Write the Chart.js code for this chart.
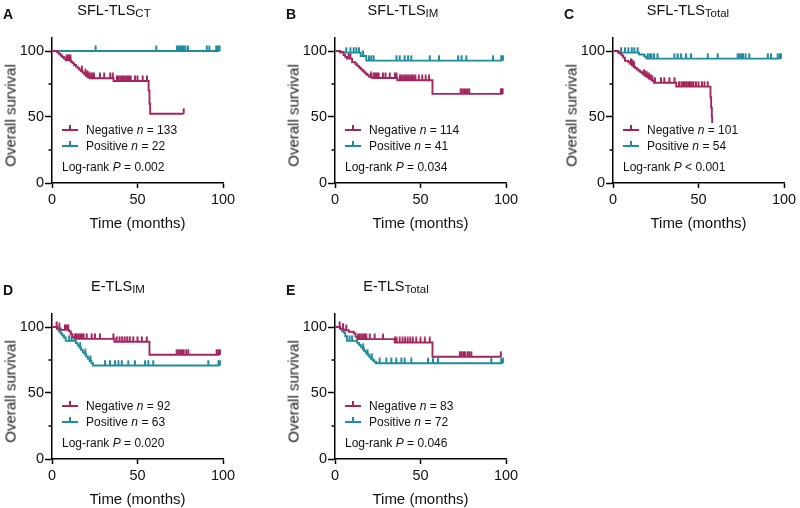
<!DOCTYPE html>
<html>
<head>
<meta charset="utf-8">
<script src="https://cdn.jsdelivr.net/npm/chart.js@4.4.1/dist/chart.umd.min.js"></script>
<style>
    body { margin: 0; background: #fff; width: 800px; height: 508px; position: relative; overflow: hidden;
           font-family: "Liberation Sans", Arial, sans-serif; color: #111; }
    .panel { position: absolute; width: 250px; height: 240px; }
    .panel canvas { position: absolute; left: 0; top: 0; }
    .txt { position: absolute; white-space: nowrap; line-height: 1; }
    .letter { font-weight: bold; font-size: 14px; }
    .title { font-size: 14.5px; transform: translateX(-50%); }
    .title sub { font-size: 11.5px; position: relative; top: 1.5px; vertical-align: baseline; line-height: 0; }
    .ytitle { font-size: 15px; width: 200px; text-align: center; transform: rotate(-90deg); color: #1a1a1a; }
    .xtitle { font-size: 15px; width: 200px; text-align: center; }
    .leg { font-size: 12px; }
    .sym { position: absolute; height: 1.6px; width: 16px; }
    .sym i { position: absolute; left: 7px; top: -4.5px; width: 1.6px; height: 5px; }
</style>
</head>
<body>
<script>
// colours of the two groups
const groupNames = ['Negative', 'Positive'];
const groupColors = ['#A2265C', '#1E8C9E'];

const xTicks = [0, 50, 100];
const yTicks = [0, 25, 50, 75, 100];
const yMinor = [25, 75];

// ---- A: SFL-TLS CT
const A_neg_t = [0, 3, 4, 5, 6, 7, 8, 11, 12, 13, 14, 15, 16, 17, 18, 19, 20, 21, 22, 36, 56.5, 57, 57.4, 77];
const A_neg_s = [100, 99, 97.8, 96.6, 95.4, 94.2, 93, 91.8, 90.6, 89.4, 88.2, 87, 85.8, 84.6, 83.4, 82.2, 81, 80, 79.4, 77.3, 70, 60, 52.5, 52.5];
const A_neg_c = [8.5, 9.3, 10, 10.8, 17.5, 19.5, 20.5, 21.5, 22.5, 23.5, 24.5, 28, 30.5, 34, 35.5, 38, 39, 40, 41, 42, 43, 44, 45, 46, 48.5, 50, 53, 55.5, 77];
const A_pos_t = [0, 98];
const A_pos_s = [100, 100];
const A_pos_c = [25.5, 61, 73, 74, 75, 76, 77, 78, 79.5, 90.5, 92, 96, 97, 98];

// ---- B: SFL-TLS IM
const B_neg_t = [0, 3, 5, 6, 7, 10, 12, 13, 14, 15, 16, 17, 18, 19, 20, 21, 22, 36.5, 57, 98];
const B_neg_s = [100, 99.2, 97, 95.5, 94.2, 91.5, 90, 88.7, 87.5, 86.3, 85, 83.8, 82.6, 81.5, 80.5, 80, 79.5, 77.8, 67.5, 67.5];
const B_neg_c = [8, 9, 21, 22.5, 23.5, 24.5, 25.5, 28, 29.5, 32, 35, 36, 38, 39, 40, 41, 42, 43, 44, 45, 46, 47, 49, 51, 53, 55, 73.5, 74.5, 75.5, 76.5, 77.5, 78.5, 97, 97.5, 98];
const B_pos_t = [0, 3, 15, 18.3, 98];
const B_pos_s = [100, 98.8, 96.2, 92.7, 92.7];
const B_pos_c = [6.6, 9, 10.9, 12.5, 14, 16.4, 19.9, 21.2, 22.6, 35.9, 37.8, 40.7, 42.7, 44.6, 55.4, 60.8, 72, 74, 76.8, 92.4, 97.2, 98.2];

// ---- C: SFL-TLS Total
const C_neg_t = [0, 3, 4, 5, 6, 7, 9, 10, 11, 12, 13, 14, 15, 16, 17, 18, 19, 20, 21, 22, 23, 24, 37, 57, 57.4, 57.8, 58];
const C_neg_s = [100, 99, 98, 96.7, 95, 92.5, 91.5, 90.3, 89.2, 88, 87, 86, 85, 84, 83, 82, 81, 80, 79.2, 78.4, 77.5, 76, 73, 65, 57, 50, 45.5];
const C_neg_c = [10.5, 11.5, 12.3, 18, 19, 20, 21, 22, 23, 24.5, 28, 30, 33, 36, 38.6, 40, 41, 42, 43, 44, 45, 46, 47, 48.5, 50, 52, 53.5, 55.4];
const C_pos_t = [0, 3, 15.2, 18.3, 19.5, 98];
const C_pos_s = [100, 98.8, 97.4, 95.8, 94.2, 94.2];
const C_pos_c = [4.7, 7, 9, 11, 12.5, 14.4, 20.3, 21.5, 22.5, 24, 26, 35.9, 37.8, 39.8, 42.7, 45.6, 55.4, 61.2, 72.9, 74, 75, 76, 77.5, 79.7, 90.5, 92.4, 96.3, 97.5, 98.2];

// ---- D: E-TLS IM
const D_neg_t = [0, 3, 5, 10, 11, 12, 13, 36.5, 57, 98];
const D_neg_s = [100, 98.9, 97.8, 96.7, 94.5, 92.3, 91, 88.8, 79, 79];
const D_neg_c = [2.7, 4.3, 7.6, 8.6, 9.5, 13.5, 14.5, 15.5, 16.5, 17.5, 18.5, 20.3, 23.2, 25.1, 28, 35.9, 37.8, 39.5, 41, 42.5, 44, 45.5, 47.5, 50, 52.5, 55.4, 72.9, 74, 75, 76, 77, 78.5, 79.7, 96.3, 97.3, 98.2];
const D_pos_t = [0, 3, 4, 5, 6, 7, 8, 14, 15, 16, 17, 18, 19, 20, 21, 22, 23, 24, 98];
const D_pos_s = [100, 98.4, 96.8, 95.2, 93.6, 92, 89.5, 87.8, 86.1, 84.4, 82.7, 81, 79.3, 77.6, 75.9, 74.2, 72.5, 70.8, 70.8];
const D_pos_c = [10, 11.5, 16.5, 19.5, 22.5, 31, 33.9, 36.8, 38.8, 40.8, 44.6, 48.5, 54.4, 56.3, 59.2, 91.4, 97.3, 98.2];

// ---- E: E-TLS Total
const E_neg_t = [0, 3, 5, 8, 11, 12, 13, 35, 57, 97];
const E_neg_s = [100, 98.8, 97.6, 96.4, 95.2, 92.8, 90.8, 88.3, 77.5, 77.5];
const E_neg_c = [2.7, 4.7, 6.6, 13.5, 14.5, 15.5, 16.5, 17.5, 18.3, 20.3, 23.2, 28.1, 35, 36, 37.8, 39.5, 41, 42.5, 44, 45.5, 47.5, 50, 52.5, 55.4, 73, 74, 75, 76, 77.5, 78.5, 79.7, 97];
const E_pos_t = [0, 3, 4, 5, 6, 7, 13, 14, 15, 16, 17, 18, 19, 20, 21, 22, 23, 24, 98];
const E_pos_s = [100, 98.6, 97.2, 95.8, 93, 89.5, 88, 86.5, 85, 83.5, 82, 80.5, 79, 77.5, 76, 74.8, 73.6, 72.5, 72.5];
const E_pos_c = [8.5, 10, 16.5, 19, 21.5, 26.1, 30, 32.9, 35.8, 38.8, 40.7, 44.6, 54.4, 57.3, 60.2, 91.4, 97.2, 98.2];

const panels = [
    { letter: 'A', left: 0,   top: 0,   title: 'SFL-TLS', sub: 'CT',    titleX: 114, n: [133, 22], p: '= 0.002',
      groups: [[A_neg_t, A_neg_s, A_neg_c], [A_pos_t, A_pos_s, A_pos_c]] },
    { letter: 'B', left: 283, top: 0,   title: 'SFL-TLS', sub: 'IM',    titleX: 120, n: [114, 41], p: '= 0.034',
      groups: [[B_neg_t, B_neg_s, B_neg_c], [B_pos_t, B_pos_s, B_pos_c]] },
    { letter: 'C', left: 561, top: 0,   title: 'SFL-TLS', sub: 'Total', titleX: 127, n: [101, 54], p: '< 0.001',
      groups: [[C_neg_t, C_neg_s, C_neg_c], [C_pos_t, C_pos_s, C_pos_c]] },
    { letter: 'D', left: 0,   top: 276, title: 'E-TLS',   sub: 'IM',    titleX: 118, n: [92, 63],  p: '= 0.020',
      groups: [[D_neg_t, D_neg_s, D_neg_c], [D_pos_t, D_pos_s, D_pos_c]] },
    { letter: 'E', left: 283, top: 276, title: 'E-TLS',   sub: 'Total', titleX: 113, n: [83, 72],  p: '= 0.046',
      groups: [[E_neg_t, E_neg_s, E_neg_c], [E_pos_t, E_pos_s, E_pos_c]] },
];

Chart.defaults.font.family = '"Liberation Sans", Arial, sans-serif';
Chart.defaults.font.size = 14.5;
Chart.defaults.color = '#111';

// survival value of a step curve at time t
function survAt(t, times, surv) {
    let v = surv[0];
    for (let i = 0; i < times.length; i++) {
        if (times[i] <= t) v = surv[i];
    }
    return v;
}

// censor mark: short vertical tick going up from the curve
function tickImage(color) {
    const c = document.createElement('canvas');
    c.width = 4;
    c.height = 12;
    const g = c.getContext('2d');
    g.fillStyle = color;
    g.fillRect(1, 0.5, 2, 5.5);
    return c;
}

const minorTicks = {
    id: 'minorTicks',
    afterDraw(chart) {
        const y = chart.scales.y;
        const ctx = chart.ctx;
        ctx.save();
        ctx.strokeStyle = '#000';
        ctx.lineWidth = 1.5;
        yMinor.forEach(v => {
            const py = y.getPixelForValue(v);
            ctx.beginPath();
            ctx.moveTo(y.right - 3.5, py);
            ctx.lineTo(y.right, py);
            ctx.stroke();
        });
        ctx.restore();
    }
};

function addText(parent, cls, html, left, top) {
    const d = document.createElement('div');
    d.className = 'txt ' + cls;
    d.innerHTML = html;
    d.style.left = left + 'px';
    d.style.top = top + 'px';
    parent.appendChild(d);
    return d;
}

function makePanel(p) {
    const wrap = document.createElement('div');
    wrap.className = 'panel';
    wrap.style.left = p.left + 'px';
    wrap.style.top = p.top + 'px';
    document.body.appendChild(wrap);

    const canvas = document.createElement('canvas');
    canvas.width = 250;
    canvas.height = 240;
    wrap.appendChild(canvas);

    const datasets = [];
    p.groups.forEach((g, k) => {
        const [t, s, c] = g;
        datasets.push({
            data: t.map((x, i) => ({ x: x, y: s[i] })),
            borderColor: groupColors[k], borderWidth: 1.9,
            stepped: 'before', pointRadius: 0, fill: false
        });
        datasets.push({
            data: c.map(x => ({ x: x, y: survAt(x, t, s) })),
            showLine: false, pointStyle: tickImage(groupColors[k]), pointRadius: 4
        });
    });

    new Chart(canvas, {
        type: 'line',
        data: { datasets },
        options: {
            responsive: false,
            animation: false,
            events: [],
            layout: { padding: { left: 0, right: 27, top: 37.8, bottom: 27 } },
            plugins: { legend: { display: false }, tooltip: { enabled: false } },
            scales: {
                x: {
                    type: 'linear', min: 0, max: 100,
                    afterBuildTicks: sc => { sc.ticks = xTicks.map(v => ({ value: v })); },
                    afterFit: sc => { sc.height = 30; },
                    grid: { drawOnChartArea: false, tickLength: 5, color: '#000', tickWidth: 1.5 },
                    border: { color: '#000', width: 1.5 },
                    ticks: { padding: 3, maxRotation: 0, autoSkip: false }
                },
                y: {
                    type: 'linear', min: 0, max: 110,
                    afterBuildTicks: sc => { sc.ticks = yTicks.map(v => ({ value: v })); },
                    afterFit: sc => { sc.width = 52; },
                    grid: {
                        drawOnChartArea: false, tickLength: 7, tickWidth: 1.5,
                        tickColor: c => (c.tick && c.tick.value % 50 === 0) ? '#000' : 'rgba(0,0,0,0)'
                    },
                    border: { color: '#000', width: 1.5 },
                    ticks: { padding: 1, autoSkip: false, callback: v => (v % 50 === 0 ? v : '') }
                }
            }
        },
        plugins: [minorTicks]
    });

    // texts
    addText(wrap, 'letter', p.letter, 3, 7.2);
    addText(wrap, 'title', p.title + '<sub>' + p.sub + '</sub>', p.titleX, 3);
    addText(wrap, 'ytitle', 'Overall survival', 10 - 100, 115 - 7.5);
    addText(wrap, 'xtitle', 'Time (months)', 137.5 - 100, 214.5);

    const base = [134, 150];
    groupNames.forEach((name, k) => {
        addText(wrap, 'leg', name + ' <i>n</i> = ' + p.n[k], 86, base[k] - 10.2);
        const sym = document.createElement('div');
        sym.className = 'sym';
        sym.style.left = '62px';
        sym.style.top = (base[k] - 4.8) + 'px';
        sym.style.background = groupColors[k];
        const tk = document.createElement('i');
        tk.style.background = groupColors[k];
        sym.appendChild(tk);
        wrap.appendChild(sym);
    });
    addText(wrap, 'leg', 'Log-rank <i>P</i> ' + p.p, 62, 171 - 10.2);
}

panels.forEach(makePanel);
</script>
</body>
</html>
